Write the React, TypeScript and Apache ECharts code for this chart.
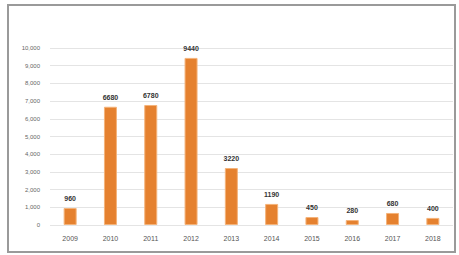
import React, { useEffect, useRef } from "react";
import * as echarts from "echarts";

const categories = ["2009", "2010", "2011", "2012", "2013", "2014", "2015", "2016", "2017", "2018"];
const values = [960, 6680, 6780, 9440, 3220, 1190, 450, 280, 680, 400];
const yTicks = { min: 0, max: 10000, interval: 1000 };

export default function App() {
  const ref = useRef<HTMLDivElement>(null);
  useEffect(() => {
    const chart = echarts.init(ref.current!, null, { renderer: "svg" });
    chart.setOption({
      animation: false,
      backgroundColor: "#ffffff",
      graphic: [
        {
          type: "rect",
          shape: { x: 8, y: 5, width: 447, height: 247 },
          style: { fill: "none", stroke: "#9a9a9a", lineWidth: 2 },
          silent: true,
        },
      ],
      grid: { left: 50, right: 6, top: 48, bottom: 30 },
      xAxis: {
        type: "category",
        data: categories,
        axisLine: { show: false },
        axisTick: { show: false },
        axisLabel: { color: "#555", fontSize: 7, margin: 10, fontFamily: "Liberation Sans" },
      },
      yAxis: {
        type: "value",
        min: yTicks.min,
        max: yTicks.max,
        interval: yTicks.interval,
        axisLine: { show: false },
        axisTick: { show: false },
        axisLabel: { color: "#666", fontSize: 6, margin: 10, fontFamily: "Liberation Sans" },
        splitLine: { lineStyle: { color: "#e4e4e4", width: 1 } },
      },
      series: [
        {
          type: "bar",
          data: values,
          barWidth: 13,
          itemStyle: { color: "#e5812f", borderColor: "#f4b37a", borderWidth: 1 },
          label: {
            show: true,
            position: "top",
            distance: 6,
            color: "#333",
            fontSize: 7,
            fontWeight: "bold",
            fontFamily: "Liberation Sans",
          },
        },
      ],
    });
    return () => chart.dispose();
  }, []);
  return (
    <div
      ref={ref}
      style={{ position: "fixed", left: 0, top: 0, width: 459, height: 255 }}
    />
  );
}
